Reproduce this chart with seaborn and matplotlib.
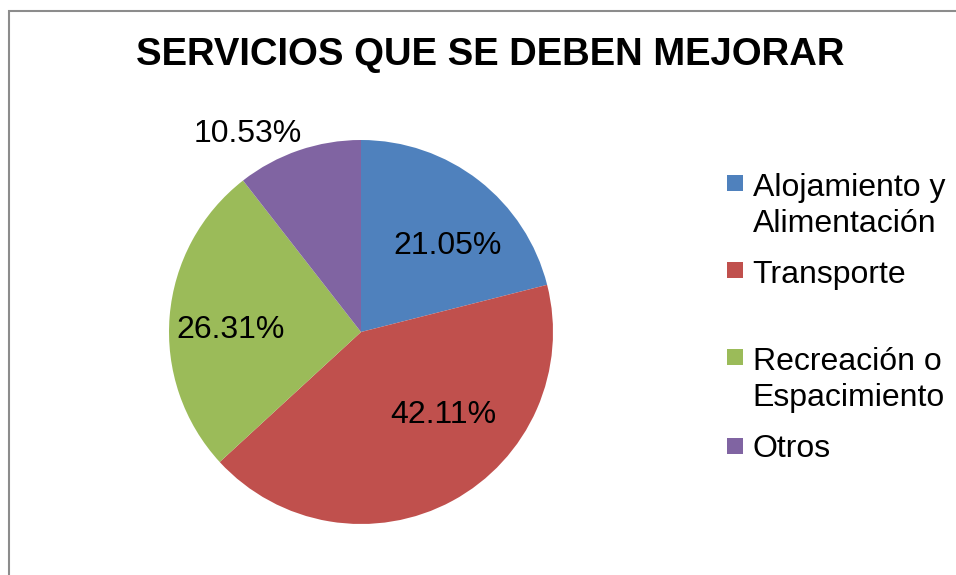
import matplotlib
matplotlib.use("Agg")
import matplotlib.pyplot as plt
import seaborn as sns
from matplotlib.patches import Rectangle
from matplotlib.legend_handler import HandlerPatch

################### Data ######################################################
categories = ["Alojamiento y\nAlimentación", "Transporte\n ",
              "Recreación o\nEspacimiento", "Otros"]
values = [21.05, 42.11, 26.31, 10.53]
pct_labels = ["21.05%", "42.11%", "26.31%", "10.53%"]
title = "SERVICIOS QUE SE DEBEN MEJORAR"

colors = ["#4F81BD", "#C0504D", "#9BBB59", "#8064A2"]

################### Setup #####################################################
sns.set_style("white")
plt.rcParams['font.family'] = ['Liberation Sans', 'DejaVu Sans']
plt.rcParams['text.color'] = 'black'

LINESPACING = 1.26

W, H = 956, 575
fig = plt.figure(figsize=(W / 100, H / 100), dpi=100)

# chart frame (runs off the right / bottom edge like the screenshot)
fig.patches.append(Rectangle((9 / W, -0.1), 1.2, 1 - 11 / H + 0.1,
                             transform=fig.transFigure, fill=False,
                             edgecolor="#8c8c8c", linewidth=1.5))

# pie axes: centre (361, 332) px, radius 192 px
cx, cy, r = 361, 332, 192
ax = fig.add_axes([(cx - r) / W, (H - cy - r) / H, 2 * r / W, 2 * r / H])

wedges, _ = ax.pie(values, colors=colors, startangle=90, counterclock=False,
                   radius=1, wedgeprops=dict(linewidth=0))
ax.set_xlim(-1, 1)
ax.set_ylim(-1, 1)
ax.set_aspect("equal")

# percentage labels (offsets from centre, in radius units)
label_pos = [(0.45, 0.45), (0.43, -0.43), (-0.68, 0.01), (-0.59, 1.03)]
for lbl, (x, y) in zip(pct_labels, label_pos):
    ax.text(x, y, lbl, ha="center", va="center", fontsize=23, color="black")

fig.text(490 / W, 1 - 55 / H, title, ha="center", va="center",
         fontsize=27.5, fontweight="bold", color="black")


# square next to the first line of a label (two-line labels are centred)
def make_square(lines):
    def square(legend, orig_handle, xdescent, ydescent, width, height, fontsize):
        s = 0.5 * fontsize
        shift = 0.5 * (lines - 1) * LINESPACING * fontsize * 1.16
        return Rectangle((-xdescent + width - s,
                          -ydescent + height * 0.5 - s / 2 + shift), s, s)
    return HandlerPatch(patch_func=square)


leg = fig.legend(wedges, categories, loc="upper left",
                 bbox_to_anchor=(727 / W, 1 - 173 / H), frameon=False,
                 fontsize=23, handlelength=0.5, handleheight=0.7,
                 handletextpad=0.3, labelspacing=0.66,
                 borderpad=0, borderaxespad=0,
                 handler_map={w: make_square(c.count("\n") + 1)
                              for w, c in zip(wedges, categories)})
for t in leg.get_texts():
    t.set_linespacing(LINESPACING)

fig.savefig("out.png", dpi=100)
